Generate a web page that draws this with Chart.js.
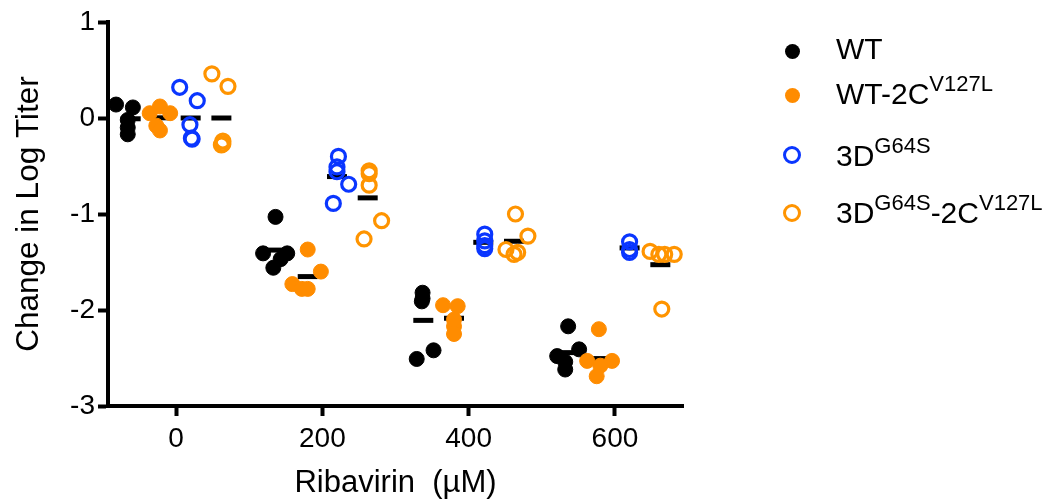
<!DOCTYPE html>
<html lang="en">
<head>
  <meta charset="UTF-8" />
  <title>Ribavirin titer change</title>
  <script src="https://cdn.jsdelivr.net/npm/chart.js"></script>
  <style>
    body {
      margin: 0;
      background: #fff;
      font-family: 'Liberation Sans', Arial, sans-serif;
      color: #000;
    }
    .wrap {
      position: relative;
      width: 1057px;
      height: 502px;
    }
    .legend-row {
      position: absolute;
      left: 836px;
      font-size: 30px;
      line-height: 30px;
      white-space: nowrap;
    }
    .legend-row sup {
      font-size: 22px;
      vertical-align: 13px;
      line-height: 0;
    }
    .mark {
      position: absolute;
      box-sizing: border-box;
      border-radius: 50%;
    }
  </style>
</head>
<body>
  <div class="wrap">
    <canvas id="titerChart"></canvas>
  </div>

  <script>
    // concentrations on the x axis (uM)
    const concentrations = [0, 200, 400, 600];
    const groupOffsets = [-62, -20, 20, 62];

    // WT (black, filled)
    const wtX = [-82, -59, -66, -66, -66, 136, 119, 152, 143, 133, 337, 337, 336, 352, 329, 536, 551, 521, 532, 532];
    const wtY = [0.14, 0.11, -0.02, -0.10, -0.17, -1.03, -1.41, -1.41, -1.47, -1.56, -1.82, -1.88, -1.91, -2.42, -2.51, -2.17, -2.41, -2.48, -2.54, -2.62];

    // WT-2C V127L (orange, filled)
    const wt2cX = [-22, -36, -8, -27, -22, 180, 198, 159, 172, 180, 365, 385, 380, 380, 380, 578, 562, 596, 580, 575];
    const wt2cY = [0.12, 0.05, 0.05, -0.08, -0.13, -1.37, -1.60, -1.73, -1.78, -1.78, -1.95, -1.96, -2.10, -2.17, -2.25, -2.20, -2.53, -2.53, -2.58, -2.69];

    // 3D G64S (blue, open)
    const g64sX = [5, 29, 19, 21, 22, 222, 220, 220, 236, 215, 422, 422, 422, 422, 620, 620, 620];
    const g64sY = [0.32, 0.18, -0.07, -0.21, -0.22, -0.40, -0.51, -0.56, -0.69, -0.89, -1.21, -1.28, -1.33, -1.36, -1.29, -1.37, -1.40];

    // 3D G64S-2C V127L (orange, open)
    const g64s2cX = [49, 71, 64, 64, 62, 264, 264, 264, 281, 257, 464, 481, 451, 462, 467, 648, 660, 668, 681, 664];
    const g64s2cY = [0.46, 0.33, -0.24, -0.27, -0.28, -0.55, -0.58, -0.70, -1.07, -1.26, -1.00, -1.23, -1.37, -1.42, -1.40, -1.39, -1.42, -1.42, -1.42, -1.99];

    const yTicks = [-3, -2, -1, 0, 1];

    function pts(xs, ys) {
      return xs.map((x, i) => ({ x: x, y: ys[i] }));
    }

    // mean bar for each concentration, shifted by the series offset
    function means(xs, ys, offset) {
      return concentrations.map(c => {
        const vals = ys.filter((v, i) => Math.round(xs[i] / 200) * 200 === c);
        const m = vals.reduce((a, b) => a + b, 0) / vals.length;
        return { x: c + offset, y: m };
      });
    }

    const meanData = []
      .concat(means(wtX, wtY, groupOffsets[0]))
      .concat(means(wt2cX, wt2cY, groupOffsets[1]))
      .concat(means(g64sX, g64sY, groupOffsets[2]))
      .concat(means(g64s2cX, g64s2cY, groupOffsets[3]));

    const black = '#000000';
    const orange = '#FF8C00';
    const orangeRing = '#FF9400';
    const blue = '#0A36FF';

    const font = 'Liberation Sans, Arial, sans-serif';

    new Chart(document.getElementById('titerChart'), {
      type: 'scatter',
      data: {
        datasets: [
          {
            label: 'mean',
            data: meanData,
            pointStyle: 'line',
            pointRadius: 10,
            borderWidth: 5,
            borderColor: black,
            backgroundColor: black,
            order: 10
          },
          {
            label: 'WT',
            data: pts(wtX, wtY),
            pointRadius: 7.5,
            borderWidth: 1,
            backgroundColor: black,
            borderColor: black,
            order: 4
          },
          {
            label: 'WT-2C V127L',
            data: pts(wt2cX, wt2cY),
            pointRadius: 7.5,
            borderWidth: 1,
            backgroundColor: orange,
            borderColor: orange,
            order: 3
          },
          {
            label: '3D G64S',
            data: pts(g64sX, g64sY),
            pointRadius: 7,
            borderWidth: 3.2,
            backgroundColor: 'rgba(0,0,0,0)',
            borderColor: blue,
            order: 2
          },
          {
            label: '3D G64S-2C V127L',
            data: pts(g64s2cX, g64s2cY),
            pointRadius: 7,
            borderWidth: 3.2,
            backgroundColor: 'rgba(0,0,0,0)',
            borderColor: orangeRing,
            order: 1
          }
        ]
      },
      options: {
        responsive: true,
        maintainAspectRatio: false,
        animation: false,
        events: [],
        layout: {
          padding: { top: 22, right: 374, bottom: 0, left: 0 }
        },
        plugins: {
          legend: { display: false },
          tooltip: { enabled: false }
        },
        scales: {
          x: {
            type: 'linear',
            min: -93,
            max: 693,
            afterBuildTicks: axis => {
              axis.ticks = concentrations.map(v => ({ value: v }));
            },
            afterFit: axis => { axis.height = 96; },
            border: { display: true, color: black, width: 4 },
            grid: {
              display: true,
              drawOnChartArea: false,
              drawTicks: true,
              tickLength: 10,
              tickWidth: 4,
              tickColor: black
            },
            ticks: {
              color: black,
              padding: 6,
              font: { family: font, size: 28 }
            },
            title: {
              display: true,
              text: 'Ribavirin  (\u00b5M)',
              color: black,
              padding: { top: 6, bottom: 0 },
              font: { family: font, size: 31 }
            }
          },
          y: {
            min: -3,
            max: 1,
            afterBuildTicks: axis => {
              axis.ticks = yTicks.map(v => ({ value: v }));
            },
            afterFit: axis => { axis.width = 108; },
            border: { display: true, color: black, width: 4 },
            grid: {
              display: true,
              drawOnChartArea: false,
              drawTicks: true,
              tickLength: 10,
              tickWidth: 4,
              tickColor: black
            },
            ticks: {
              color: black,
              padding: 3,
              font: { family: font, size: 28 }
            },
            title: {
              display: true,
              text: 'Change in Log Titer',
              color: black,
              padding: { top: 10, bottom: 0 },
              font: { family: font, size: 31.5 }
            }
          }
        }
      }
    });

    // legend with superscripts, drawn as html text
    const legendItems = [
      { html: 'WT', top: 34, cy: 51, fill: black, ring: null },
      { html: 'WT-2C<sup>V127L</sup>', top: 79, cy: 95, fill: orange, ring: null },
      { html: '3D<sup>G64S</sup>', top: 141, cy: 155, fill: null, ring: blue },
      { html: '3D<sup>G64S</sup>-2C<sup>V127L</sup>', top: 198, cy: 213, fill: null, ring: orangeRing }
    ];
    const wrap = document.querySelector('.wrap');
    legendItems.forEach(item => {
      const row = document.createElement('div');
      row.className = 'legend-row';
      row.style.top = item.top + 'px';
      row.innerHTML = item.html;
      wrap.appendChild(row);

      const m = document.createElement('div');
      m.className = 'mark';
      const size = item.fill ? 15 : 18;
      m.style.width = size + 'px';
      m.style.height = size + 'px';
      m.style.left = (792 - size / 2) + 'px';
      m.style.top = (item.cy - size / 2) + 'px';
      if (item.fill) {
        m.style.background = item.fill;
      } else {
        m.style.border = '3.5px solid ' + item.ring;
      }
      wrap.appendChild(m);
    });
  </script>
</body>
</html>
